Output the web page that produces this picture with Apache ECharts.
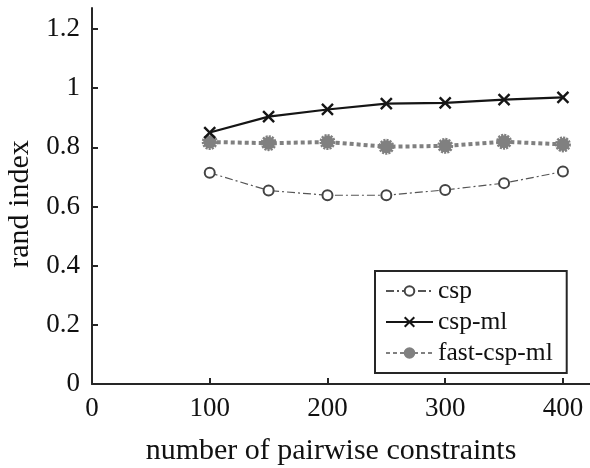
<!DOCTYPE html>
<html>
<head>
<meta charset="utf-8">
<script src="https://cdn.jsdelivr.net/npm/echarts@6/dist/echarts.min.js"></script>
<style>
  html, body { margin: 0; padding: 0; background: #fff; }
  #chart { width: 590px; height: 468px; }
</style>
</head>
<body>
<div id="chart"></div>
<script>
// 横轴：成对约束数量
const constraints = [100, 150, 200, 250, 300, 350, 400]
// 三条曲线的 rand index
const cspVals = [0.714, 0.654, 0.638, 0.638, 0.656, 0.679, 0.718]
const cspMlVals = [0.850, 0.904, 0.928, 0.948, 0.950, 0.961, 0.969]
const fastCspMlVals = [0.818, 0.814, 0.818, 0.802, 0.805, 0.819, 0.810]
// 刻度
const xTicks = [0, 100, 200, 300, 400]
const yTicks = [0, 0.2, 0.4, 0.6, 0.8, 1, 1.2]

const font = 'Liberation Serif'
const tickSize = 27
const nameSize = 30
const axisColor = '#262626'

// 把 x 和 y 拼成点对
function pairs(ys) {
    return constraints.map((x, i) => [x, ys[i]])
}

const cs = echarts.init(document.getElementById('chart'))
const option = {
    backgroundColor: '#fff',
    animation: false,
    textStyle: { fontFamily: font },
    grid: {
        left: 92,
        right: 0,
        top: 8,
        bottom: 84,
        containLabel: false,
        outerBoundsMode: 'none'
    },
    legend: {
        orient: 'vertical',
        left: 375,
        top: 271,
        padding: [7, 14, 7, 10],
        itemWidth: 47,
        itemHeight: 12,
        itemGap: 5,
        borderColor: axisColor,
        borderWidth: 2,
        backgroundColor: '#fff',
        textStyle: { fontFamily: font, fontSize: 25.5, color: '#111', lineHeight: 26 },
        data: ['csp', 'csp-ml', 'fast-csp-ml']
    },
    xAxis: {
        type: 'value',
        min: 0,
        max: 423,
        name: 'number of pairwise constraints',
        nameLocation: 'middle',
        nameGap: 52,
        nameTextStyle: { fontFamily: font, fontSize: nameSize, color: '#111', padding: [0, 20, 0, 0] },
        axisLine: { lineStyle: { color: axisColor, width: 2 } },
        axisTick: { inside: true, length: 6, lineStyle: { color: axisColor, width: 2 }, customValues: xTicks },
        axisLabel: { fontFamily: font, fontSize: tickSize, color: '#111', margin: 11, customValues: xTicks },
        splitLine: { show: false }
    },
    yAxis: {
        type: 'value',
        min: 0,
        max: 1.271,
        name: 'rand index',
        nameLocation: 'middle',
        nameGap: 55,
        nameTextStyle: { fontFamily: font, fontSize: nameSize, color: '#111', padding: [0, 16, 0, 0] },
        axisLine: { show: true, lineStyle: { color: axisColor, width: 2 } },
        axisTick: { show: true, inside: true, length: 6, lineStyle: { color: axisColor, width: 2 }, customValues: yTicks },
        axisLabel: { fontFamily: font, fontSize: tickSize, color: '#111', margin: 12, customValues: yTicks },
        splitLine: { show: false }
    },
    series: [
        {
            name: 'csp',
            type: 'line',
            data: pairs(cspVals),
            symbol: 'emptyCircle',
            symbolSize: 10,
            lineStyle: { color: '#555', width: 1.2, type: [8, 3, 2, 3] },
            itemStyle: { color: '#444', borderColor: '#444', borderWidth: 1.2 },
            z: 2
        },
        {
            name: 'csp-ml',
            type: 'line',
            data: pairs(cspMlVals),
            symbol: 'path://M0,0L10,10M10,0L0,10',
            symbolSize: 11,
            lineStyle: { color: '#151515', width: 2.2 },
            itemStyle: { color: '#151515', borderColor: '#151515', borderWidth: 2.4 },
            z: 3
        },
        {
            name: 'fast-csp-ml',
            type: 'line',
            data: pairs(fastCspMlVals),
            symbol: 'circle',
            symbolSize: 13,
            lineStyle: { color: '#808080', width: 4, type: [4, 3], cap: 'butt' },
            itemStyle: { color: '#808080', borderColor: '#808080', borderWidth: 3, borderType: [2, 1] },
            z: 2
        }
    ]
}
cs.setOption(option)
</script>
</body>
</html>
